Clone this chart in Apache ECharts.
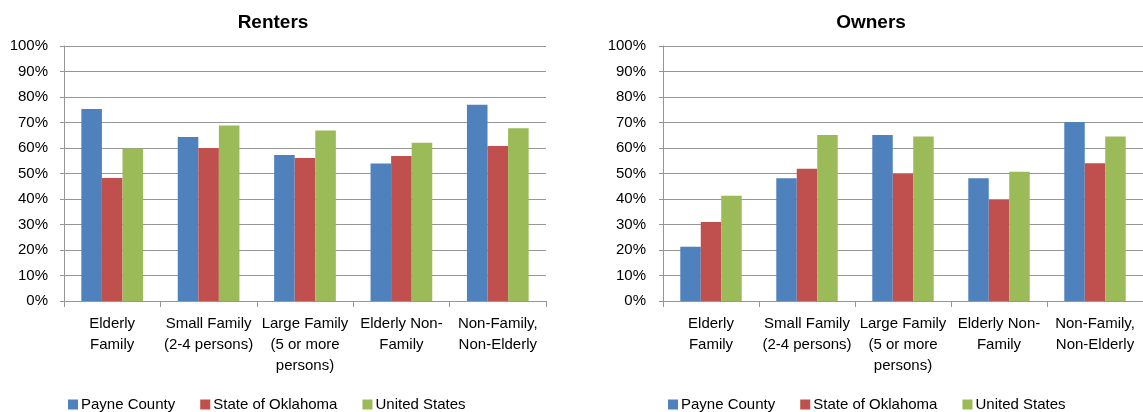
<!DOCTYPE html>
<html>
<head>
<meta charset="utf-8">
<script src="https://cdn.jsdelivr.net/npm/echarts@6/dist/echarts.min.js"></script>
<style>
  html, body { margin: 0; padding: 0; background: #fff; }
  #chart { width: 1143px; height: 412px; }
</style>
</head>
<body>
<div id="chart"></div>
<script>
// categories shared by both panels
const categories = [
  'Elderly\nFamily',
  'Small Family\n(2-4 persons)',
  'Large Family\n(5 or more\npersons)',
  'Elderly Non-\nFamily',
  'Non-Family,\nNon-Elderly',
];
const seriesNames = ['Payne County', 'State of Oklahoma', 'United States'];
const yTicks = [0, 10, 20, 30, 40, 50, 60, 70, 80, 90, 100];

// Renters (percent)
const rentersPayne = [75.3, 64.3, 57.3, 53.9, 77.0];
const rentersOklahoma = [48.2, 60.0, 56.1, 56.9, 60.8];
const rentersUS = [59.8, 68.8, 66.9, 62.1, 67.7];

// Owners (percent)
const ownersPayne = [21.3, 48.1, 65.1, 48.1, 70.2];
const ownersOklahoma = [31.0, 51.9, 49.8, 39.6, 54.0];
const ownersUS = [41.3, 65.1, 64.5, 50.7, 64.5];

const COLORS = ['#4F81BD', '#C0504D', '#9BBB59'];
const FONT = 'Liberation Sans';
const GRID_COLOR = '#969696';

const myChart = echarts.init(document.getElementById('chart'));

function xAxisFor(gridIndex) {
  return {
    type: 'category',
    gridIndex,
    data: categories,
    axisLine: { lineStyle: { color: GRID_COLOR, width: 1 } },
    axisTick: { show: true, length: 6, lineStyle: { color: GRID_COLOR } },
    axisLabel: {
      interval: 0,
      margin: 12,
      color: '#000',
      fontFamily: FONT,
      fontSize: 15,
      lineHeight: 21,
    },
  };
}

function yAxisFor(gridIndex, margin) {
  return {
    type: 'value',
    gridIndex,
    min: yTicks[0],
    max: yTicks[yTicks.length - 1],
    interval: 10,
    axisLine: { show: true, lineStyle: { color: GRID_COLOR, width: 1 } },
    axisTick: { show: true, length: 4, lineStyle: { color: GRID_COLOR } },
    splitLine: { lineStyle: { color: GRID_COLOR, width: 1 } },
    axisLabel: {
      margin,
      color: '#000',
      fontFamily: FONT,
      fontSize: 15,
      formatter: '{value}%',
    },
  };
}

function barSeries(name, data, axisIndex, color) {
  return {
    name,
    type: 'bar',
    xAxisIndex: axisIndex,
    yAxisIndex: axisIndex,
    data,
    barGap: '0%',
    barCategoryGap: '36%',
    itemStyle: { color },
  };
}

function legendFor(left) {
  return {
    data: seriesNames,
    left,
    top: 392,
    icon: 'rect',
    itemWidth: 10,
    itemHeight: 10,
    itemGap: 25,
    textStyle: { color: '#000', fontFamily: FONT, fontSize: 15, padding: [0, 0, 0, -2] },
  };
}

const option = {
  animation: false,
  title: [
    {
      text: 'Renters',
      left: 268,
      top: 8,
      textAlign: 'center',
      textStyle: { fontFamily: FONT, fontSize: 19, fontWeight: 'bold', color: '#000' },
    },
    {
      text: 'Owners',
      left: 866,
      top: 8,
      textAlign: 'center',
      textStyle: { fontFamily: FONT, fontSize: 19, fontWeight: 'bold', color: '#000' },
    },
  ],
  legend: [legendFor(63), legendFor(663)],
  grid: [
    { left: 64, top: 46, width: 482, height: 255 },
    { left: 663, top: 46, width: 481, height: 255 },
  ],
  xAxis: [xAxisFor(0), xAxisFor(1)],
  yAxis: [yAxisFor(0, 16), yAxisFor(1, 17)],
  series: [
    barSeries(seriesNames[0], rentersPayne, 0, COLORS[0]),
    barSeries(seriesNames[1], rentersOklahoma, 0, COLORS[1]),
    barSeries(seriesNames[2], rentersUS, 0, COLORS[2]),
    barSeries(seriesNames[0], ownersPayne, 1, COLORS[0]),
    barSeries(seriesNames[1], ownersOklahoma, 1, COLORS[1]),
    barSeries(seriesNames[2], ownersUS, 1, COLORS[2]),
  ],
};

myChart.setOption(option);
window.addEventListener('resize', () => {
  myChart.resize();
});
</script>
</body>
</html>
